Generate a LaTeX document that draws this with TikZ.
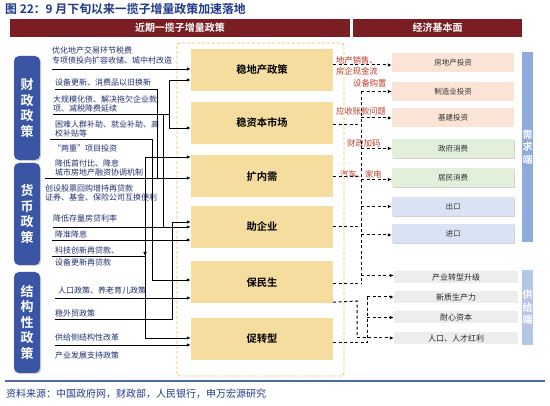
\documentclass[tikz,border=0pt]{standalone}
\usepackage{fontspec}
\setmainfont{Noto Sans CJK SC}[BoldFont={Noto Sans CJK SC Bold}]
\usetikzlibrary{arrows.meta,shadows}
\definecolor{titleblue}{HTML}{1F3A8A}
\definecolor{hdrred}{HTML}{7B1E24}
\definecolor{labblue}{HTML}{3A55A4}
\definecolor{navytxt}{HTML}{1F3070}
\definecolor{redtxt}{HTML}{C0392B}
\definecolor{polfill}{HTML}{F5DDA0}
\definecolor{framec}{HTML}{F6BF4A}
\definecolor{peach}{HTML}{FBE4D5}
\definecolor{greenf}{HTML}{E2EFDA}
\definecolor{bluef}{HTML}{DAE3F3}
\definecolor{grayf}{HTML}{EDEDED}
\definecolor{barone}{HTML}{8FAADC}
\definecolor{bartwo}{HTML}{B4C7E7}
\definecolor{lineblue}{HTML}{5068B0}
\begin{document}
\begin{tikzpicture}[x=1pt,y=-1pt,
  hdr/.style={fill=hdrred, minimum height=18pt, inner sep=0, text=white, font=\fontsize{10}{12}\selectfont\bfseries},
  lab/.style={fill=labblue, rounded corners=5pt, minimum width=26pt, inner sep=0, text=white, align=center,
    font=\fontsize{13}{15.5}\selectfont\bfseries, drop shadow={shadow xshift=1.2pt,shadow yshift=-1.2pt,opacity=0.35}},
  pbox/.style={fill=polfill, minimum width=142pt, minimum height=42pt, inner sep=0, font=\fontsize{10.3}{12}\selectfont\bfseries},
  rbox/.style={minimum width=122pt, minimum height=19pt, inner sep=0, text=black!80, font=\fontsize{7.5}{9}\selectfont},
  shd/.style={drop shadow={shadow xshift=1pt,shadow yshift=-1pt,opacity=0.35}},
  gbox/.style={fill=grayf, minimum width=124pt, minimum height=12pt, inner sep=0, text=black!85, font=\fontsize{8}{9}\selectfont},
  bar/.style={minimum width=11pt, inner sep=0, text=white, align=center, font=\fontsize{10}{12.5}\selectfont\bfseries},
  ltext/.style={anchor=west, inner sep=0, text=navytxt, font=\fontsize{8}{9}\selectfont},
  rtext/.style={anchor=west, inner sep=0, text=redtxt, font=\fontsize{8.3}{9}\selectfont},
  sline/.style={draw=black, line width=0.85pt},
  sarr/.style={sline, -{Latex[length=4pt,width=3.5pt]}},
  dline/.style={draw=black, line width=1pt, dash pattern=on 3pt off 2.5pt},
  darr/.style={dline, -{Latex[length=4pt,width=3.5pt]}}
]
\useasboundingbox (0,0) rectangle (550,406);
\fill[white] (0,0) rectangle (550,406);

% title
\node[anchor=west, inner sep=0, text=titleblue, font=\fontsize{11.9}{13}\selectfont\bfseries] (title) at (5,9) {图 22：9 月下旬以来一揽子增量政策加速落地};

% headers
\node[hdr, minimum width=340pt] (h1) at (180,28) {近期一揽子增量政策};
\node[hdr, minimum width=169pt] (h2) at (437.5,28) {经济基本面};

% dashed frame
\draw[framec, line width=0.9pt, dash pattern=on 3pt off 2pt, rounded corners=3pt] (177,43) rectangle (344,376);

% left labels
\node[lab, minimum height=104pt] (lab1) at (27,108) {财\\政\\政\\策};
\node[lab, minimum height=102pt] (lab2) at (27,214) {货\\币\\政\\策};
\node[lab, minimum height=101pt] (lab3) at (27,322.5) {结\\构\\性\\政\\策};

% policy boxes
\node[pbox] (p1) at (262,70) {稳地产政策};
\node[pbox] (p2) at (262,123) {稳资本市场};
\node[pbox] (p3) at (262,176.5) {扩内需};
\node[pbox] (p4) at (262,227) {助企业};
\node[pbox] (p5) at (262,282.5) {保民生};
\node[pbox] (p6) at (262,339) {促转型};

% right boxes
\node[rbox, fill=peach] (r1) at (453,62.5) {房地产投资};
\node[rbox, fill=peach] (r2) at (453,91.5) {制造业投资};
\node[rbox, fill=peach] (r3) at (453,118) {基建投资};
\node[rbox, fill=greenf, shd] (r4) at (453,148.5) {政府消费};
\node[rbox, fill=greenf, shd] (r5) at (453,177.5) {居民消费};
\node[rbox, fill=bluef, shd] (r6) at (453,206.5) {出口};
\node[rbox, fill=bluef, shd] (r7) at (453,233.5) {进口};
\node[gbox] (g1) at (456,277.5) {产业转型升级};
\node[gbox] (g2) at (456,297) {新质生产力};
\node[gbox] (g3) at (456,317.5) {耐心资本};
\node[gbox] (g4) at (456,338) {人口、人才红利};

% side bars
\node[bar, fill=barone, minimum height=190pt] (d1) at (527.5,147) {需\\求\\端};
\node[bar, fill=bartwo, minimum height=75pt] (d2) at (527.5,307.5) {供\\给\\端};

% left texts
\node[ltext] (t1) at (52,50) {优化地产交易环节税费};
\node[ltext] (t2) at (52,60) {专项债投向扩容收储、城中村改造};
\node[ltext] (t3) at (55,82) {设备更新、消费品以旧换新};
\node[ltext] (t4) at (53,99) {大规模化债、解决拖欠企业款};
\node[ltext] (t5) at (53,108) {项、减税降费延续};
\node[ltext] (t6) at (55,124) {困难人群补助、就业补助、高};
\node[ltext] (t7) at (55,133) {校补贴等};
\node[ltext] (t8) at (53,148) {“两重”项目投资};
\node[ltext] (t9) at (55,163) {降低首付比、降息};
\node[ltext] (t10) at (55,172) {城市房地产融资协调机制};
\node[ltext] (t11) at (45,188) {创设股票回购增持再贷款};
\node[ltext] (t12) at (45,197) {证券、基金、保险公司互换便利};
\node[ltext] (t13) at (53,218) {降低存量房贷利率};
\node[ltext] (t14) at (55,234) {降准降息};
\node[ltext] (t15) at (55,250) {科技创新再贷款、};
\node[ltext] (t16) at (55,262) {设备更新再贷款};
\node[ltext] (t17) at (58,290) {人口政策、养老育儿政策};
\node[ltext] (t18) at (55,313) {稳外贸政策};
\node[ltext] (t19) at (55,337) {供给侧结构性改革};
\node[ltext] (t20) at (55,355) {产业发展支持政策};

% red labels
\node[rtext] (k1) at (336,60) {地产销售、};
\node[rtext] (k2) at (336,71) {房企现金流};
\node[rtext] (k3) at (353,83) {设备购置};
\node[rtext] (k4) at (336,111) {应收账款问题};
\node[rtext] (k5) at (347,143) {财政加码};
\node[rtext] (k6) at (340,174) {汽车、家电};

% ---- left connectors
\coordinate (a1s) at (52,69);
\draw[sarr] (a1s) -- (a1s -| p1.west);

\coordinate (a5s) at (45,178);
\coordinate (a7s) at (53,227);

\coordinate (l1s) at (55,89);
\coordinate (l1b) at (157,89);
\draw[sline] (l1s) -- (l1b) -- (l1b |- a5s);

\coordinate (l2s) at (53,114);
\coordinate (l2e) at (169,114);
\coordinate (l2v) at (163,114);
\coordinate (bt) at (169,80);
\coordinate (bb) at (169,128);
\draw[sline] (l2s) -- (l2e);
\draw[sline] (bt) -- (bb);
\draw[sline] (l2v) -- (l2v |- a7s);
\draw[sarr] (bt) -- (bt -| p1.west);
\draw[sarr] (bb) -- (bb -| p2.west);

\coordinate (l3s) at (50,139);
\coordinate (l3b) at (152,139);
\coordinate (l3e) at (152,280);
\draw[sline] (l3s) -- (l3b) -- (l3e);
\draw[sarr] (l3e) -- (l3e -| p5.west);

\coordinate (v1t) at (145,157);
\coordinate (v1b) at (145,338);
\draw[sline] (v1t) -- (v1b);
\draw[sarr] (v1t) -- (v1t -| p3.west);
\draw[sarr] (v1b) -- (v1b -| p6.west);

\coordinate (tcs) at (52,256);
\coordinate (tce) at (145,256);
\draw[sline] (tcs) -- (tce);
\draw[sarr] ([yshift=7pt]tce) -- (tce);

\draw[sarr] (a5s) -- (a5s -| p3.west);

\coordinate (a6t) at (172,222);
\coordinate (a6b) at (172,319);
\coordinate (wms) at (55,319);
\draw[sline] (wms) -- (a6b) -- (a6t);
\draw[sarr] (a6t) -- (a6t -| p4.west);

\draw[sarr] (a7s) -- (a7s -| p4.west);

\coordinate (a8s) at (52,240);
\draw[sarr] (a8s) -- (a8s -| p4.west);

\coordinate (a10s) at (55,298);
\draw[sarr] (a10s) -- (a10s -| p5.west);

\coordinate (a13s) at (55,345);
\draw[sarr] (a13s) -- (a13s -| p6.west);

% ---- right connectors
\draw[darr] ([yshift=5pt]p1.east) -- ([yshift=5pt]p1.east -| r1.west);

\coordinate (bx) at (361,0);
\coordinate (bxe) at (361,284);
\draw[dline] (bx |- r2.west) -- (bxe);
\draw[darr] (bx |- r2.west) -- (r2.west);
\draw[darr] (bx |- r3.west) -- (r3.west);
\draw[darr] (bx |- r4.west) -- (r4.west);
\draw[darr] ([yshift=-2pt]bx |- r5.west) -- ([yshift=-2pt]r5.west);
\draw[darr] (bx |- r6.west) -- (r6.west);
\draw[darr] ([yshift=-1.5pt]bx |- r7.west) -- ([yshift=-1.5pt]r7.west);
\draw[darr] ([yshift=2pt]bx |- g1.west) -- ([yshift=2pt]g1.west);
\draw[dline] ([yshift=-2pt]p2.east) -- ([yshift=-2pt]p2.east -| bx);
\draw[dline] (p3.east) -- (p3.east -| bx);
\draw[dline] (p4.east) -- (p4.east -| bx);
\draw[dline] ([yshift=-1.5pt]p5.east) -- (bxe);

\coordinate (b2t) at (357,301);
\coordinate (b2b) at (357,338);
\draw[dline] ([yshift=1.5pt]p5.south east) -- (b2t) -- (b2b);
\draw[darr] (b2b) -- (b2b -| g4.west);

\coordinate (b3b) at (367,343);
\coordinate (b3t) at (367,297);
\draw[dline] ([yshift=-4pt]p6.east) -- (b3b) -- (b3t);
\draw[darr] (b3t) -- (b3t -| g2.west);
\draw[darr] (b3t |- g3.west) -- (g3.west);

% bottom
\draw[lineblue, line width=1.3pt] (5,381) -- (545,381);
\node[anchor=west, inner sep=0, text=titleblue, font=\fontsize{10}{11}\selectfont] (src) at (6,393.5) {资料来源：中国政府网，财政部，人民银行，申万宏源研究};
\end{tikzpicture}
\end{document}
